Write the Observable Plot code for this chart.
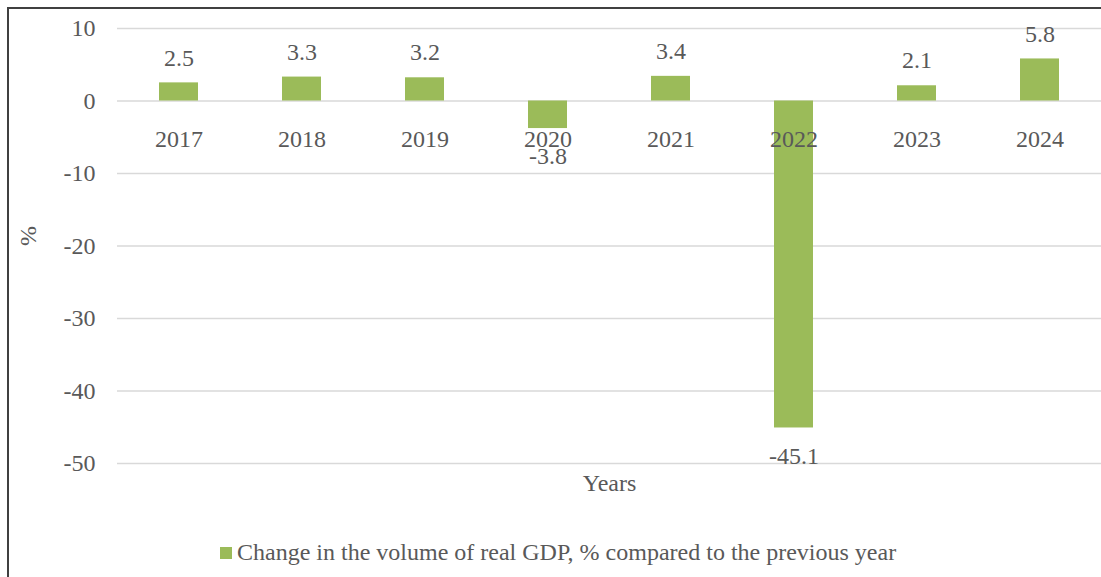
<!DOCTYPE html>
<html>
<head>
<meta charset="utf-8">
<script src="https://cdn.jsdelivr.net/npm/d3@7"></script>
<script src="https://cdn.jsdelivr.net/npm/@observablehq/plot@0.6"></script>
<style>
  html, body { margin: 0; padding: 0; background: #fff; overflow: hidden; }
  body { width: 1101px; height: 577px; position: relative; font-family: 'Liberation Serif', 'DejaVu Serif', serif; }
  #chart { position: absolute; left: 0; top: 0; }
  #chart svg, #chart svg text { font-family: 'Liberation Serif', 'DejaVu Serif', serif !important; }
  .bl { position: absolute; left: 7px; top: 7px; width: 2px; height: 580px; background: #404040; }
  .bt { position: absolute; left: 7px; top: 7px; width: 1100px; height: 2px; background: #404040; }
  #legend { position: absolute; left: 0; top: 538px; width: 1101px; height: 28px; color: #595959; font-size: 24px; }
  #legend .sw { position: absolute; left: 220px; top: 9px; width: 12px; height: 12px; background: #9BBB59; }
  #legend .tx { position: absolute; left: 237px; top: 0px; line-height: 28px; white-space: nowrap; }
</style>
</head>
<body>
<div id="chart"></div>
<div id="legend"><span class="sw"></span><span class="tx">Change in the volume of real GDP, % compared to the previous year</span></div>
<div class="bl"></div>
<div class="bt"></div>
<script>
const years = ["2017", "2018", "2019", "2020", "2021", "2022", "2023", "2024"];
const values = [2.5, 3.3, 3.2, -3.8, 3.4, -45.1, 2.1, 5.8];
const yTicks = [10, 0, -10, -20, -30, -40, -50];
const seriesName = "Change in the volume of real GDP, % compared to the previous year";

const data = years.map((y, i) => ({year: y, value: values[i]}));
const font = "'Liberation Serif', 'DejaVu Serif', serif";
const grey = "#595959";
const fs = 24;

const chart = Plot.plot({
  width: 1101,
  height: 510,
  marginLeft: 117,
  marginRight: 0,
  marginTop: 28,
  marginBottom: 47,
  style: {fontFamily: font, background: "transparent", overflow: "visible"},
  x: {domain: years, paddingInner: 0.685, paddingOuter: 0.3425, axis: null},
  y: {domain: [-50, 10], ticks: yTicks, axis: null},
  marks: [
    Plot.ruleY(yTicks, {stroke: "#d9d9d9", strokeWidth: 1.6}),
    Plot.axisY({ticks: yTicks, tickSize: 0, tickPadding: 22, fontSize: fs, fill: grey, label: null, tickFormat: d => String(d)}),
    Plot.barY(data, {x: "year", y: "value", fill: "#9BBB59"}),
    Plot.text(data, {x: "year", y: 0, text: "year", dy: 38, fontSize: fs, fill: grey}),
    Plot.text(data, {x: "year", y: "value", text: d => d.value.toFixed(1), fontSize: fs, fill: grey,
      filter: d => d.value >= 0, dy: -25}),
    Plot.text(data, {x: "year", y: "value", text: d => d.value.toFixed(1), fontSize: fs, fill: grey,
      filter: d => d.value < 0, dy: 28}),
    Plot.text(["Years"], {frameAnchor: "bottom", dy: 27, fontSize: fs, fill: grey}),
    Plot.text(["%"], {frameAnchor: "left", dx: -89, rotate: -90, fontSize: fs, fill: grey})
  ]
});
document.getElementById("chart").appendChild(chart);
</script>
</body>
</html>
